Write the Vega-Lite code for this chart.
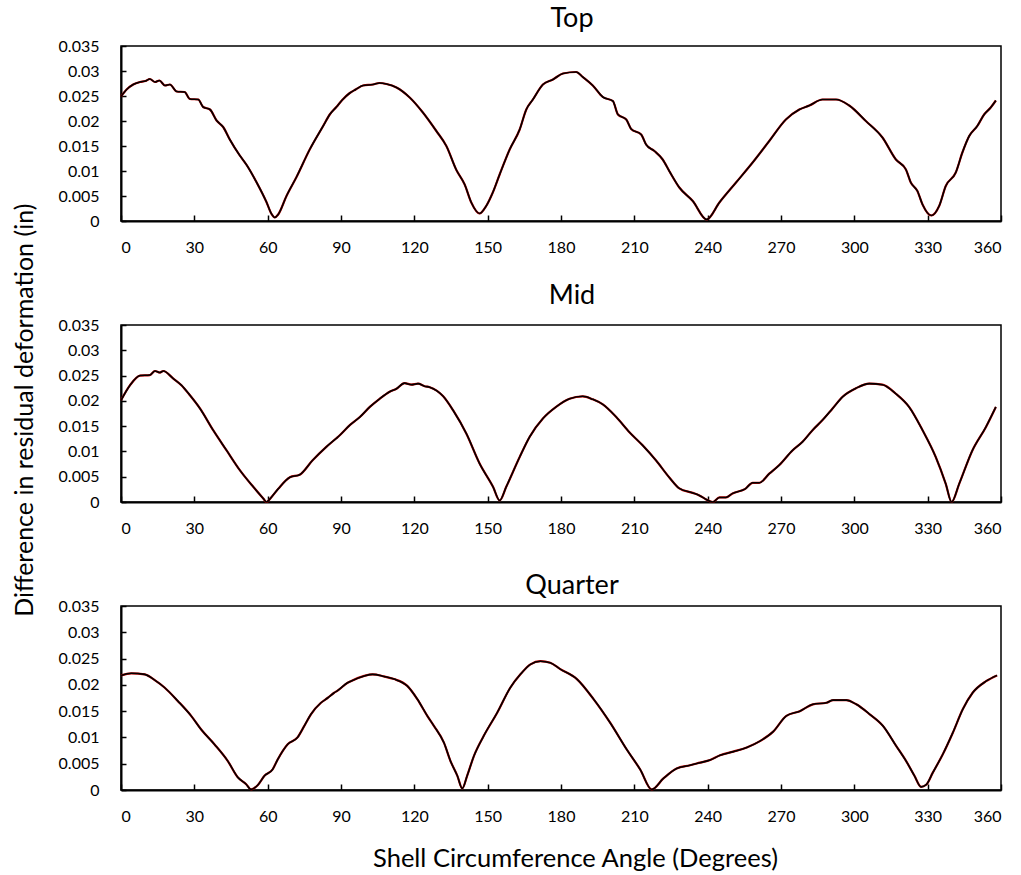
{
  "$schema": "https://vega.github.io/schema/vega-lite/v6.json",
  "background": "white",
  "padding": {"left": 13, "top": 4, "right": 5, "bottom": 2},
  "spacing": 104,
  "bounds": "flush",
  "title": {"text": "Difference in residual deformation (in)", "orient": "left", "anchor": "middle", "frame": "bounds", "fontSize": 25, "baseline": "middle", "offset": 7, "dx": 28},
  "config": {
    "font": "Lato",
    "view": {"stroke": "#000", "strokeWidth": 1.5},
    "axis": {"domainColor": "#000", "domainWidth": 2, "tickColor": "#000", "tickWidth": 1.5, "labelColor": "#000", "labelFont": "Lato", "labelFontSize": 16, "titleFont": "Lato", "titleFontSize": 25.5, "titleFontWeight": "normal", "titleColor": "#000", "grid": false},
    "title": {"font": "Lato", "fontSize": 27, "fontWeight": "normal", "color": "#000", "anchor": "middle", "frame": "group"}
  },
  "datasets": {
    "d": [
      {"p":"Top","a":0,"v":0.0249},{"p":"Top","a":2.3,"v":0.0263},{"p":"Top","a":5,"v":0.0273},{"p":"Top","a":7.8,"v":0.0278},{"p":"Top","a":10,"v":0.028},{"p":"Top","a":11.8,"v":0.0284},{"p":"Top","a":13.9,"v":0.0278},{"p":"Top","a":15.7,"v":0.0281},{"p":"Top","a":18,"v":0.0271},{"p":"Top","a":20,"v":0.0273},{"p":"Top","a":22.8,"v":0.0259},{"p":"Top","a":26,"v":0.0258},{"p":"Top","a":28.2,"v":0.0244},{"p":"Top","a":31.6,"v":0.0243},{"p":"Top","a":33.6,"v":0.0228},{"p":"Top","a":36.4,"v":0.0223},{"p":"Top","a":39.1,"v":0.0201},{"p":"Top","a":41.8,"v":0.0188},{"p":"Top","a":44.5,"v":0.0163},{"p":"Top","a":48.6,"v":0.0131},{"p":"Top","a":51.4,"v":0.0112},{"p":"Top","a":55.5,"v":0.0077},{"p":"Top","a":59.5,"v":0.0038},{"p":"Top","a":61.6,"v":0.0014},{"p":"Top","a":62.9,"v":0.0007},{"p":"Top","a":64.3,"v":0.0013},{"p":"Top","a":67.7,"v":0.005},{"p":"Top","a":71.8,"v":0.0088},{"p":"Top","a":77.2,"v":0.0143},{"p":"Top","a":82.7,"v":0.019},{"p":"Top","a":85.4,"v":0.0213},{"p":"Top","a":88.1,"v":0.0228},{"p":"Top","a":90.5,"v":0.0242},{"p":"Top","a":93.6,"v":0.0256},{"p":"Top","a":96,"v":0.0263},{"p":"Top","a":99,"v":0.0271},{"p":"Top","a":103.1,"v":0.0273},{"p":"Top","a":105.8,"v":0.0276},{"p":"Top","a":108.6,"v":0.0274},{"p":"Top","a":112.7,"v":0.0267},{"p":"Top","a":118.1,"v":0.0247},{"p":"Top","a":123.5,"v":0.0217},{"p":"Top","a":129,"v":0.018},{"p":"Top","a":133.1,"v":0.015},{"p":"Top","a":137.2,"v":0.0102},{"p":"Top","a":140.6,"v":0.0073},{"p":"Top","a":143.3,"v":0.0037},{"p":"Top","a":146.7,"v":0.0015},{"p":"Top","a":149.4,"v":0.003},{"p":"Top","a":152.1,"v":0.0057},{"p":"Top","a":154.9,"v":0.0093},{"p":"Top","a":159,"v":0.0143},{"p":"Top","a":163.1,"v":0.0183},{"p":"Top","a":165.8,"v":0.0223},{"p":"Top","a":168.5,"v":0.0243},{"p":"Top","a":172.6,"v":0.0273},{"p":"Top","a":176.7,"v":0.0283},{"p":"Top","a":180.8,"v":0.0295},{"p":"Top","a":186.2,"v":0.0298},{"p":"Top","a":188.9,"v":0.0288},{"p":"Top","a":193,"v":0.0271},{"p":"Top","a":197.1,"v":0.0248},{"p":"Top","a":201.2,"v":0.024},{"p":"Top","a":203.3,"v":0.0213},{"p":"Top","a":206.7,"v":0.0203},{"p":"Top","a":208.7,"v":0.0184},{"p":"Top","a":212.8,"v":0.0173},{"p":"Top","a":214.8,"v":0.0153},{"p":"Top","a":218.2,"v":0.014},{"p":"Top","a":221.6,"v":0.0123},{"p":"Top","a":224.4,"v":0.0099},{"p":"Top","a":228.4,"v":0.0067},{"p":"Top","a":233.9,"v":0.004},{"p":"Top","a":239.6,"v":0.0003},{"p":"Top","a":244.8,"v":0.0037},{"p":"Top","a":251.6,"v":0.0077},{"p":"Top","a":258.4,"v":0.0117},{"p":"Top","a":265.2,"v":0.016},{"p":"Top","a":272,"v":0.0203},{"p":"Top","a":277.5,"v":0.0223},{"p":"Top","a":281.6,"v":0.0231},{"p":"Top","a":287,"v":0.0243},{"p":"Top","a":292.5,"v":0.0243},{"p":"Top","a":297.9,"v":0.0231},{"p":"Top","a":304.7,"v":0.02},{"p":"Top","a":311.5,"v":0.0167},{"p":"Top","a":317,"v":0.0123},{"p":"Top","a":321.1,"v":0.0103},{"p":"Top","a":323.1,"v":0.0077},{"p":"Top","a":325.8,"v":0.006},{"p":"Top","a":327.9,"v":0.0033},{"p":"Top","a":331.5,"v":0.0011},{"p":"Top","a":334.7,"v":0.003},{"p":"Top","a":337.4,"v":0.007},{"p":"Top","a":341.5,"v":0.0097},{"p":"Top","a":344.2,"v":0.0137},{"p":"Top","a":347,"v":0.017},{"p":"Top","a":350.3,"v":0.019},{"p":"Top","a":353.1,"v":0.0213},{"p":"Top","a":355.8,"v":0.0227},{"p":"Top","a":357.9,"v":0.0241},
      {"p":"Mid","a":0,"v":0.0201},{"p":"Mid","a":3.7,"v":0.0231},{"p":"Mid","a":7.8,"v":0.025},{"p":"Mid","a":11.8,"v":0.0251},{"p":"Mid","a":13.9,"v":0.0259},{"p":"Mid","a":15.9,"v":0.0256},{"p":"Mid","a":17.3,"v":0.0259},{"p":"Mid","a":21.4,"v":0.0244},{"p":"Mid","a":24.7,"v":0.0231},{"p":"Mid","a":28.2,"v":0.0211},{"p":"Mid","a":32.3,"v":0.0185},{"p":"Mid","a":37.7,"v":0.0142},{"p":"Mid","a":43.2,"v":0.0102},{"p":"Mid","a":48.6,"v":0.0063},{"p":"Mid","a":54.1,"v":0.003},{"p":"Mid","a":58.2,"v":0.0007},{"p":"Mid","a":59.5,"v":0},{"p":"Mid","a":61.6,"v":0.001},{"p":"Mid","a":64.3,"v":0.0026},{"p":"Mid","a":69.1,"v":0.0049},{"p":"Mid","a":73.1,"v":0.0054},{"p":"Mid","a":78.3,"v":0.0082},{"p":"Mid","a":84,"v":0.0109},{"p":"Mid","a":88.1,"v":0.0126},{"p":"Mid","a":89.5,"v":0.0132},{"p":"Mid","a":93.6,"v":0.0152},{"p":"Mid","a":97.7,"v":0.0168},{"p":"Mid","a":101.8,"v":0.0188},{"p":"Mid","a":105.8,"v":0.0204},{"p":"Mid","a":109.9,"v":0.0218},{"p":"Mid","a":112.7,"v":0.0224},{"p":"Mid","a":116,"v":0.0235},{"p":"Mid","a":118.8,"v":0.0232},{"p":"Mid","a":121.5,"v":0.0234},{"p":"Mid","a":124.2,"v":0.0229},{"p":"Mid","a":126.3,"v":0.0227},{"p":"Mid","a":131.8,"v":0.0209},{"p":"Mid","a":135.9,"v":0.0181},{"p":"Mid","a":141.3,"v":0.0135},{"p":"Mid","a":146.7,"v":0.0076},{"p":"Mid","a":152.2,"v":0.003},{"p":"Mid","a":154.9,"v":0.0003},{"p":"Mid","a":157.6,"v":0.003},{"p":"Mid","a":163.1,"v":0.0089},{"p":"Mid","a":167.2,"v":0.0129},{"p":"Mid","a":172.6,"v":0.0165},{"p":"Mid","a":178,"v":0.0188},{"p":"Mid","a":183.5,"v":0.0204},{"p":"Mid","a":188.9,"v":0.0209},{"p":"Mid","a":193,"v":0.0203},{"p":"Mid","a":197.1,"v":0.0193},{"p":"Mid","a":202.6,"v":0.0168},{"p":"Mid","a":208,"v":0.0138},{"p":"Mid","a":213.4,"v":0.0112},{"p":"Mid","a":218.9,"v":0.0082},{"p":"Mid","a":224.4,"v":0.0048},{"p":"Mid","a":228.4,"v":0.0027},{"p":"Mid","a":233.9,"v":0.0018},{"p":"Mid","a":236.6,"v":0.0013},{"p":"Mid","a":239.4,"v":0.0005},{"p":"Mid","a":242.1,"v":0},{"p":"Mid","a":244.8,"v":0.0009},{"p":"Mid","a":247.5,"v":0.0009},{"p":"Mid","a":250.2,"v":0.0017},{"p":"Mid","a":255.4,"v":0.0026},{"p":"Mid","a":258.4,"v":0.0038},{"p":"Mid","a":261.1,"v":0.0038},{"p":"Mid","a":265.2,"v":0.0056},{"p":"Mid","a":269.3,"v":0.0073},{"p":"Mid","a":274.7,"v":0.0102},{"p":"Mid","a":278.8,"v":0.0119},{"p":"Mid","a":282.9,"v":0.0142},{"p":"Mid","a":287,"v":0.0162},{"p":"Mid","a":291.1,"v":0.0185},{"p":"Mid","a":295.2,"v":0.0208},{"p":"Mid","a":300.7,"v":0.0225},{"p":"Mid","a":306.1,"v":0.0234},{"p":"Mid","a":311.5,"v":0.0232},{"p":"Mid","a":317,"v":0.0214},{"p":"Mid","a":322.4,"v":0.0188},{"p":"Mid","a":327.9,"v":0.0142},{"p":"Mid","a":333.3,"v":0.0089},{"p":"Mid","a":337.4,"v":0.0036},{"p":"Mid","a":339.8,"v":0},{"p":"Mid","a":342.9,"v":0.0036},{"p":"Mid","a":348.3,"v":0.0102},{"p":"Mid","a":353.8,"v":0.0148},{"p":"Mid","a":357.9,"v":0.0188},
      {"p":"Quarter","a":0,"v":0.0218},{"p":"Quarter","a":4.2,"v":0.0222},{"p":"Quarter","a":9.7,"v":0.022},{"p":"Quarter","a":13.8,"v":0.0209},{"p":"Quarter","a":17.8,"v":0.0195},{"p":"Quarter","a":23.3,"v":0.0169},{"p":"Quarter","a":28.7,"v":0.0141},{"p":"Quarter","a":32.8,"v":0.0115},{"p":"Quarter","a":38.2,"v":0.0087},{"p":"Quarter","a":43.7,"v":0.0055},{"p":"Quarter","a":47.8,"v":0.0024},{"p":"Quarter","a":51.2,"v":0.0011},{"p":"Quarter","a":53.2,"v":0.0001},{"p":"Quarter","a":55.9,"v":0.0009},{"p":"Quarter","a":58.7,"v":0.0027},{"p":"Quarter","a":62,"v":0.0039},{"p":"Quarter","a":64.1,"v":0.0058},{"p":"Quarter","a":68.2,"v":0.0087},{"p":"Quarter","a":72.2,"v":0.01},{"p":"Quarter","a":75,"v":0.0122},{"p":"Quarter","a":77.7,"v":0.0144},{"p":"Quarter","a":81.8,"v":0.0166},{"p":"Quarter","a":84.5,"v":0.0175},{"p":"Quarter","a":87.2,"v":0.0185},{"p":"Quarter","a":88.6,"v":0.0189},{"p":"Quarter","a":92.7,"v":0.0204},{"p":"Quarter","a":94,"v":0.0207},{"p":"Quarter","a":99.5,"v":0.0217},{"p":"Quarter","a":102.9,"v":0.022},{"p":"Quarter","a":107.6,"v":0.0216},{"p":"Quarter","a":111.7,"v":0.0211},{"p":"Quarter","a":117.1,"v":0.0198},{"p":"Quarter","a":121.2,"v":0.0173},{"p":"Quarter","a":125.3,"v":0.0141},{"p":"Quarter","a":128,"v":0.0122},{"p":"Quarter","a":132.1,"v":0.009},{"p":"Quarter","a":134.8,"v":0.0055},{"p":"Quarter","a":137.6,"v":0.0027},{"p":"Quarter","a":139.6,"v":0.0003},{"p":"Quarter","a":141.6,"v":0.0027},{"p":"Quarter","a":144.4,"v":0.0065},{"p":"Quarter","a":148.4,"v":0.0103},{"p":"Quarter","a":153.9,"v":0.0147},{"p":"Quarter","a":159.3,"v":0.0195},{"p":"Quarter","a":163.4,"v":0.022},{"p":"Quarter","a":167.5,"v":0.0239},{"p":"Quarter","a":171.6,"v":0.0245},{"p":"Quarter","a":175.6,"v":0.0242},{"p":"Quarter","a":179.7,"v":0.023},{"p":"Quarter","a":186.5,"v":0.0211},{"p":"Quarter","a":193.3,"v":0.0173},{"p":"Quarter","a":200.1,"v":0.0128},{"p":"Quarter","a":206.9,"v":0.0077},{"p":"Quarter","a":212.4,"v":0.0039},{"p":"Quarter","a":217.1,"v":0.0001},{"p":"Quarter","a":221.9,"v":0.0022},{"p":"Quarter","a":227.3,"v":0.0041},{"p":"Quarter","a":232.8,"v":0.0047},{"p":"Quarter","a":236.9,"v":0.0052},{"p":"Quarter","a":241,"v":0.0057},{"p":"Quarter","a":245.1,"v":0.0066},{"p":"Quarter","a":250.5,"v":0.0073},{"p":"Quarter","a":256,"v":0.0081},{"p":"Quarter","a":261.4,"v":0.0093},{"p":"Quarter","a":266.8,"v":0.0111},{"p":"Quarter","a":272.2,"v":0.0141},{"p":"Quarter","a":277.7,"v":0.015},{"p":"Quarter","a":283.1,"v":0.0163},{"p":"Quarter","a":288.6,"v":0.0166},{"p":"Quarter","a":291.3,"v":0.0171},{"p":"Quarter","a":296.7,"v":0.0171},{"p":"Quarter","a":300.8,"v":0.0163},{"p":"Quarter","a":306.3,"v":0.0144},{"p":"Quarter","a":311.7,"v":0.0122},{"p":"Quarter","a":317.1,"v":0.0084},{"p":"Quarter","a":321.2,"v":0.0055},{"p":"Quarter","a":324.6,"v":0.0027},{"p":"Quarter","a":327.3,"v":0.0006},{"p":"Quarter","a":329.4,"v":0.001},{"p":"Quarter","a":332.1,"v":0.0033},{"p":"Quarter","a":336.2,"v":0.0068},{"p":"Quarter","a":340.3,"v":0.0109},{"p":"Quarter","a":344.4,"v":0.0154},{"p":"Quarter","a":348.4,"v":0.0185},{"p":"Quarter","a":353.9,"v":0.0207},{"p":"Quarter","a":358.4,"v":0.0218}
    ]
  },
  "vconcat": [
    {
      "title": {"text": "Top", "offset": -16, "baseline": "alphabetic", "dx": 11},
      "width": 880, "height": 175,
      "data": {"name": "d"},
      "transform": [{"filter": "datum.p === 'Top'"}],
      "encoding": {
        "x": {"field": "a", "type": "quantitative", "scale": {"domain": [0, 360], "nice": false}, "axis": {"values": [0,30,60,90,120,150,180,210,240,270,300,330,360], "title": null, "tickSize": -6, "labelPadding": 24}},
        "y": {"field": "v", "type": "quantitative", "scale": {"domain": [0, 0.035], "nice": false}, "axis": {"values": [0,0.005,0.01,0.015,0.02,0.025,0.03,0.035], "format": "~g", "title": null, "tickSize": -5, "labelPadding": 27}}
      },
      "layer": [
        {"mark": {"type": "line", "color": "#c00000", "strokeWidth": 2.2, "interpolate": "monotone"}},
        {"mark": {"type": "line", "color": "#000", "strokeWidth": 1.6, "interpolate": "monotone"}}
      ]
    },
    {
      "title": {"text": "Mid", "offset": -14, "baseline": "alphabetic", "dx": 11},
      "width": 880, "height": 177,
      "data": {"name": "d"},
      "transform": [{"filter": "datum.p === 'Mid'"}],
      "encoding": {
        "x": {"field": "a", "type": "quantitative", "scale": {"domain": [0, 360], "nice": false}, "axis": {"values": [0,30,60,90,120,150,180,210,240,270,300,330,360], "title": null, "tickSize": -6, "labelPadding": 24}},
        "y": {"field": "v", "type": "quantitative", "scale": {"domain": [0, 0.035], "nice": false}, "axis": {"values": [0,0.005,0.01,0.015,0.02,0.025,0.03,0.035], "format": "~g", "title": null, "tickSize": -5, "labelPadding": 27}}
      },
      "layer": [
        {"mark": {"type": "line", "color": "#c00000", "strokeWidth": 2.2, "interpolate": "monotone"}},
        {"mark": {"type": "line", "color": "#000", "strokeWidth": 1.6, "interpolate": "monotone"}}
      ]
    },
    {
      "title": {"text": "Quarter", "offset": -23, "baseline": "alphabetic", "dx": 11},
      "width": 880, "height": 184,
      "data": {"name": "d"},
      "transform": [{"filter": "datum.p === 'Quarter'"}],
      "encoding": {
        "x": {"field": "a", "type": "quantitative", "scale": {"domain": [0, 360], "nice": false}, "axis": {"values": [0,30,60,90,120,150,180,210,240,270,300,330,360], "title": "Shell Circumference Angle (Degrees)", "titleX": 454, "titleY": 76, "titleBaseline": "alphabetic", "tickSize": -6, "labelPadding": 24}},
        "y": {"field": "v", "type": "quantitative", "scale": {"domain": [0, 0.035], "nice": false}, "axis": {"values": [0,0.005,0.01,0.015,0.02,0.025,0.03,0.035], "format": "~g", "title": null, "tickSize": -5, "labelPadding": 27}}
      },
      "layer": [
        {"mark": {"type": "line", "color": "#c00000", "strokeWidth": 2.2, "interpolate": "monotone"}},
        {"mark": {"type": "line", "color": "#000", "strokeWidth": 1.6, "interpolate": "monotone"}}
      ]
    }
  ]
}
